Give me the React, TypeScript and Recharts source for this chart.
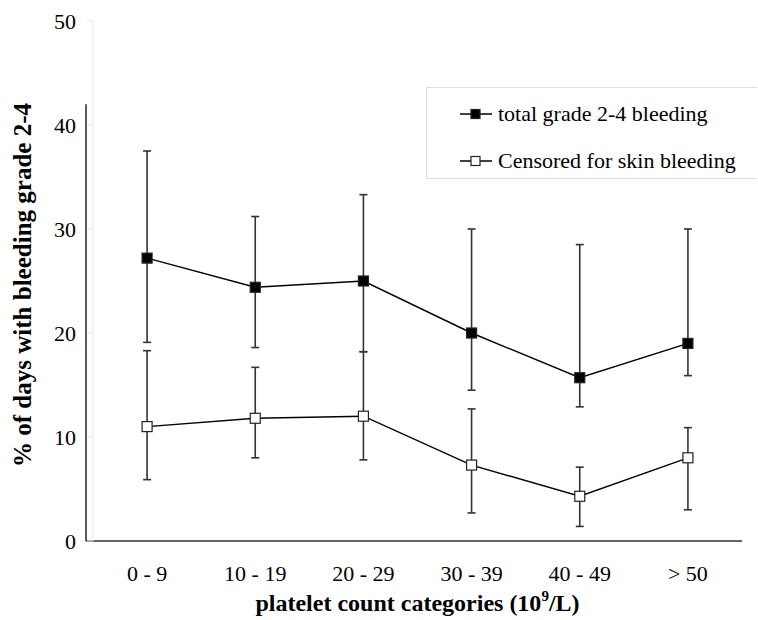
import React from 'react';
import * as Recharts from 'recharts';
import { LineChart, Line, XAxis, YAxis, ErrorBar, Legend, Label } from 'recharts';

const categories = ['0 - 9', '10 - 19', '20 - 29', '30 - 39', '40 - 49', '> 50'];
const totalValues = [27.2, 24.4, 25.0, 20.0, 15.7, 19.0];
const totalLow = [19.1, 18.6, 18.2, 14.5, 12.9, 15.9];
const totalHigh = [37.5, 31.2, 33.3, 30.0, 28.5, 30.0];
const censoredValues = [11.0, 11.8, 12.0, 7.3, 4.3, 8.0];
const censoredLow = [5.9, 8.0, 7.8, 2.7, 1.4, 3.0];
const censoredHigh = [18.3, 16.7, 18.2, 12.7, 7.1, 10.9];
const yTicks = [0, 10, 20, 30, 40, 50];
const edgeTicks = [0, 1, 2, 3, 4, 5, 6];

const data = categories.map((cat, i) => ({
  cat,
  total: totalValues[i],
  totalErr: [totalValues[i] - totalLow[i], totalHigh[i] - totalValues[i]],
  censored: censoredValues[i],
  censoredErr: [censoredValues[i] - censoredLow[i], censoredHigh[i] - censoredValues[i]],
}));

const FONT = "'Liberation Serif', 'Times New Roman', serif";
const W = 758;
const H = 620;
const M = { top: 21, right: 16, left: 0, bottom: 0 };
const YW = 93;
const XH = 79;
const HALF_BAND = (W - YW - M.right) / categories.length / 2;

const squareDot = (fill: string) => (props: any) => {
  const { cx, cy, index } = props;
  if (cx == null || cy == null) return <g key={`d${index}`} />;
  return (
    <rect
      key={`d${index}`}
      x={cx - 5}
      y={cy - 5}
      width={10}
      height={10}
      fill={fill}
      stroke="#222"
      strokeWidth={1.2}
    />
  );
};

function Frame() {
  const R: any = Recharts;
  const hook = R.usePlotArea || R.useOffset || (() => null);
  const pa = hook();
  let x = YW;
  let y = M.top;
  let w = W - YW - M.right;
  let h = H - M.top - XH;
  if (pa && typeof pa.width === 'number' && typeof pa.x === 'number') {
    x = pa.x; y = pa.y; w = pa.width; h = pa.height;
  } else if (pa && typeof pa.left === 'number') {
    x = pa.left; y = pa.top; w = W - pa.left - pa.right; h = H - pa.top - pa.bottom;
  }
  const bottom = y + h;
  const topOfLine = y + h * (1 - 42 / 50);
  return (
    <g>
      <line x1={x - 7} y1={topOfLine} x2={x - 7} y2={bottom} stroke="#333" strokeWidth={1.6} />
      <line x1={x - 7} y1={bottom} x2={x + w} y2={bottom} stroke="#333" strokeWidth={1.6} />
    </g>
  );
}

const LegendContent = () => {
  const items = [
    { label: 'total grade 2-4 bleeding', fill: '#000' },
    { label: 'Censored for skin bleeding', fill: '#fff' },
  ];
  return (
    <div
      style={{
        width: 331,
        height: 92,
        border: '1px solid #dedede',
        borderRight: 'none',
        background: '#fff',
        boxSizing: 'border-box',
        paddingTop: 3,
        fontFamily: FONT,
        fontSize: 22,
        color: '#000',
      }}
    >
      {items.map((it) => (
        <div key={it.label} style={{ display: 'flex', alignItems: 'center', height: 46.5, paddingLeft: 32 }}>
          <svg width={36} height={14} style={{ marginRight: 3 }}>
            <line x1={1} y1={7} x2={33} y2={7} stroke="#000" strokeWidth={1.5} />
            <rect x={12} y={2.5} width={9} height={9} fill={it.fill} stroke="#222" strokeWidth={1.2} />
          </svg>
          <span style={{ whiteSpace: 'nowrap' }}>{it.label}</span>
        </div>
      ))}
    </div>
  );
};

const XTitle = (props: any) => {
  const vb = props.viewBox || { x: YW, y: H - XH, width: W - YW - M.right, height: XH };
  const cx = vb.x + vb.width / 2;
  const by = vb.y + vb.height - 9;
  return (
    <text x={cx} y={by} textAnchor="middle" fontFamily={FONT} fontSize={24} fontWeight="bold" fill="#000">
      <tspan>platelet count categories (10</tspan>
      <tspan fontSize={15} dy={-10}>9</tspan>
      <tspan dy={10}>/L)</tspan>
    </text>
  );
};

const YTitle = (props: any) => {
  const vb = props.viewBox || { x: 0, y: M.top, width: YW, height: H - M.top - XH };
  const cx = vb.x + 22;
  const cy = vb.y + vb.height / 2 + 4;
  return (
    <text
      x={cx}
      y={cy}
      transform={`rotate(-90, ${cx}, ${cy})`}
      textAnchor="middle"
      dominantBaseline="central"
      fontFamily={FONT}
      fontSize={25}
      fontWeight="bold"
      fill="#000"
    >
      % of days with bleeding grade 2-4
    </text>
  );
};

export default function App() {
  return (
    <div style={{ position: 'absolute', left: 0, top: 0, width: W, height: H, background: '#fff' }}>
      <LineChart width={W} height={H} data={data} margin={M}>
        <XAxis
          xAxisId="edges"
          type="number"
          domain={[0, 6]}
          ticks={edgeTicks}
          height={0}
          axisLine={false}
          tick={false}
          tickLine={{ stroke: '#e8e8e8' }}
          tickSize={6}
        />
        <XAxis
          dataKey="cat"
          height={XH}
          axisLine={false}
          tickLine={false}
          tickSize={6}
          tickMargin={18}
          interval={0}
          padding={{ left: HALF_BAND, right: HALF_BAND }}
          tick={{ fontFamily: FONT, fontSize: 22, fill: '#000' }}
        >
          <Label content={<XTitle />} />
        </XAxis>
        <YAxis
          domain={[0, 50]}
          ticks={yTicks}
          width={YW}
          axisLine={{ stroke: '#e8e8e8' }}
          tickLine={{ stroke: '#e8e8e8' }}
          tickSize={6}
          tickMargin={11}
          tick={{ fontFamily: FONT, fontSize: 22, fill: '#000' }}
        >
          <Label content={<YTitle />} />
        </YAxis>
        <Frame />
        <Legend
          layout="vertical"
          align="center"
          verticalAlign="middle"
          content={<LegendContent />}
          wrapperStyle={{ position: 'absolute', left: 426, top: 87, width: 332, height: 93 }}
        />
        <Line
          dataKey="total"
          type="linear"
          stroke="#000"
          strokeWidth={1.4}
          isAnimationActive={false}
          dot={squareDot('#000')}
          activeDot={false}
        >
          <ErrorBar dataKey="totalErr" direction="y" width={4} stroke="#333" strokeWidth={1.6} isAnimationActive={false} />
        </Line>
        <Line
          dataKey="censored"
          type="linear"
          stroke="#000"
          strokeWidth={1.4}
          isAnimationActive={false}
          dot={squareDot('#fff')}
          activeDot={false}
        >
          <ErrorBar dataKey="censoredErr" direction="y" width={4} stroke="#333" strokeWidth={1.6} isAnimationActive={false} />
        </Line>
      </LineChart>
    </div>
  );
}
